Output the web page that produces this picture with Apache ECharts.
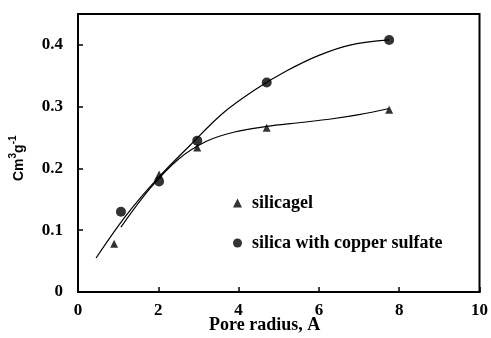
<!DOCTYPE html>
<html>
<head>
<meta charset="utf-8">
<script src="https://cdn.jsdelivr.net/npm/echarts@6/dist/echarts.min.js"></script>
<style>
html,body{margin:0;padding:0;background:#fff;}
#c{width:491px;height:338px;}
</style>
</head>
<body>
<div id="c"></div>
<script>
// Measured points
var silicagelPts = [[0.9, 0.078], [2.02, 0.19], [2.97, 0.234], [4.7, 0.266], [7.75, 0.295]];
var copperPts = [[1.07, 0.13], [2.02, 0.179], [2.97, 0.245], [4.7, 0.339], [7.75, 0.408]];
// Fitted curves
var silicagelCurve = [[1.07, 0.105], [1.8, 0.168], [2.5, 0.215], [3.2, 0.244], [3.9, 0.259], [4.7, 0.268], [5.5, 0.274], [6.3, 0.28], [7.0, 0.287], [7.75, 0.297]];
var copperCurve = [[0.45, 0.055], [1.2, 0.124], [2.0, 0.185], [2.8, 0.238], [3.6, 0.289], [4.4, 0.327], [5.2, 0.358], [6.0, 0.383], [6.8, 0.4], [7.75, 0.408]];
var seriesNames = ['silicagel', 'silica with copper sulfate'];
var xTitle = 'Pore radius, A';

var chart = echarts.init(document.getElementById('c'));
var serif = '"Liberation Serif", "Times New Roman", serif';
var sans = '"Liberation Sans", Arial, sans-serif';
chart.setOption({
  animation: false,
  grid: {left: 78, right: 4, top: 14, bottom: 46, show: true, borderColor: '#000', borderWidth: 2, backgroundColor: 'transparent'},
  legend: {
    data: seriesNames, orient: 'vertical', left: 228, top: 189, itemGap: 22,
    itemWidth: 9, itemHeight: 9,
    textStyle: {fontFamily: serif, fontWeight: 'bold', fontSize: 18, color: '#000', padding: [0, 0, 0, 5]}
  },
  xAxis: {
    type: 'value', min: 0, max: 10, interval: 2,
    axisLine: {lineStyle: {color: '#000', width: 2}},
    axisTick: {inside: true, length: 5, lineStyle: {color: '#000', width: 1.5}},
    axisLabel: {fontFamily: serif, fontWeight: 'bold', fontSize: 17, color: '#000', margin: 10},
    splitLine: {show: false}
  },
  yAxis: {
    type: 'value', min: 0, max: 0.45, interval: 0.1,
    axisLine: {lineStyle: {color: '#000', width: 2}},
    axisTick: {inside: true, length: 5, lineStyle: {color: '#000', width: 1.5}},
    axisLabel: {fontFamily: serif, fontWeight: 'bold', fontSize: 17, color: '#000', margin: 15, showMaxLabel: false,
      formatter: function (v) { return v === 0 ? '0' : v.toFixed(1); }},
    splitLine: {show: false}
  },
  graphic: [
    {type: 'text', left: 209, top: 316, style: {text: xTitle, font: 'bold 18px ' + serif, fill: '#000'}},
    {type: 'text', x: 8, y: 181, rotation: Math.PI / 2,
      style: {text: '{a|Cm}{s|3}{a|g}{s|-1}', fill: '#000',
        rich: {a: {fontFamily: sans, fontWeight: 'bold', fontSize: 14, lineHeight: 18, verticalAlign: 'bottom'},
               s: {fontFamily: sans, fontWeight: 'bold', fontSize: 10, lineHeight: 18, verticalAlign: 'top'}}}}
  ],
  series: [
    {type: 'line', data: silicagelCurve, smooth: 0.35, showSymbol: false, symbol: 'none', lineStyle: {color: '#000', width: 1.2}, silent: true},
    {type: 'line', data: copperCurve, smooth: 0.35, showSymbol: false, symbol: 'none', lineStyle: {color: '#000', width: 1.2}, silent: true},
    {name: seriesNames[0], type: 'scatter', data: silicagelPts, symbol: 'triangle', symbolSize: 8, itemStyle: {color: '#000'}},
    {name: seriesNames[1], type: 'scatter', data: copperPts, symbol: 'circle', symbolSize: 10, itemStyle: {color: '#000'}}
  ]
});
</script>
</body>
</html>
